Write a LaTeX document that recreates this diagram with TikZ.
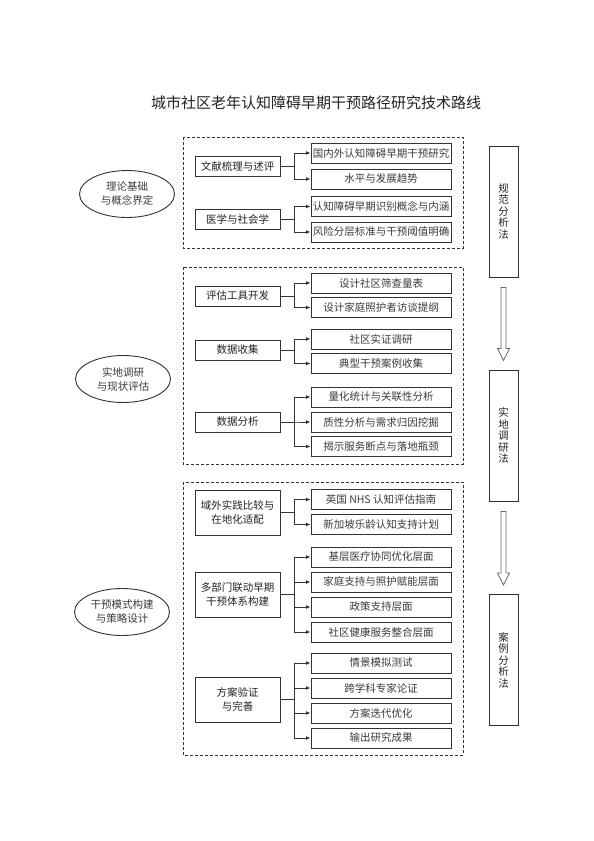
\documentclass[tikz,border=0pt]{standalone}
\usepackage{fontspec}
\setmainfont{Noto Sans CJK SC}
\usetikzlibrary{arrows.meta,shapes.geometric,calc}
\definecolor{ln}{HTML}{333333}
\definecolor{tx}{HTML}{222222}
\definecolor{lt}{HTML}{3A3A3A}
\begin{document}
\begin{tikzpicture}[x=1pt,y=-1pt,
  midbox/.style={draw=ln, line width=1pt, minimum width=85pt, minimum height=20pt, inner sep=1pt, align=center, text=tx, font=\fontsize{10.5}{14}\selectfont},
  leaf/.style={draw=ln, line width=1pt, minimum width=140pt, minimum height=20pt, inner sep=0pt, text=lt, font=\fontsize{10.5}{12}\selectfont},
  phase/.style={draw=ln, ellipse, line width=0.9pt, minimum width=95pt, minimum height=47pt, inner sep=0pt, align=center, text=lt, font=\fontsize{10.5}{14}\selectfont},
  method/.style={draw=ln, line width=1pt, minimum width=29pt, minimum height=131pt, inner sep=0pt, align=center, text=tx, font=\fontsize{10.5}{11.5}\selectfont},
  group/.style={draw=ln, dash pattern=on 3pt off 2pt, line width=0.8pt},
  conn/.style={draw=ln, line width=0.9pt, -{Latex[length=4.5pt,width=4pt]}},
  hollow/.style={draw=black!60, fill=white, line width=0.7pt}
]
\useasboundingbox (0,0) rectangle (594,841);

% title
\node[font=\fontsize{15}{18}\selectfont, text=tx] (title) at (316,103) {城市社区老年认知障碍早期干预路径研究技术路线};

% phases
\node[phase] (p1) at (127,194) {理论基础\\与概念界定};
\node[phase] (p2) at (123,379) {实地调研\\与现状评估};
\node[phase] (p3) at (122,612) {干预模式构建\\与策略设计};

% dashed groups
\draw[group] (183,137) rectangle (463,248);
\draw[group] (183,267) rectangle (463,464);
\draw[group] (183,482) rectangle (463,755);

\coordinate (T) at (294,0);

% section 1
\node[midbox] (a1) at (237.5,166) {文献梳理与述评};
\node[leaf] (a1c1) at (381,153) {国内外认知障碍早期干预研究};
\node[leaf] (a1c2) at (381,179) {水平与发展趋势};
\node[midbox] (a2) at (237.5,219) {医学与社会学};
\node[leaf] (a2c1) at (381,206.5) {认知障碍早期识别概念与内涵};
\node[leaf] (a2c2) at (381,232) {风险分层标准与干预阈值明确};

% section 2
\node[midbox] (b1) at (237.5,296) {评估工具开发};
\node[leaf] (b1c1) at (381,283) {设计社区筛查量表};
\node[leaf] (b1c2) at (381,307.5) {设计家庭照护者访谈提纲};
\node[midbox] (b2) at (237.5,350) {数据收集};
\node[leaf] (b2c1) at (381,339) {社区实证调研};
\node[leaf] (b2c2) at (381,363.5) {典型干预案例收集};
\node[midbox] (b3) at (237.5,422) {数据分析};
\node[leaf] (b3c1) at (381,397) {量化统计与关联性分析};
\node[leaf] (b3c2) at (381,422) {质性分析与需求归因挖掘};
\node[leaf] (b3c3) at (381,446.5) {揭示服务断点与落地瓶颈};

% section 3
\node[midbox, minimum height=45pt] (c1) at (237.5,512.5) {域外实践比较与\\在地化适配};
\node[leaf] (c1c1) at (381,499.5) {英国 NHS 认知评估指南};
\node[leaf] (c1c2) at (381,524.5) {新加坡乐龄认知支持计划};
\node[midbox, minimum height=45pt] (c2) at (237.5,594.5) {多部门联动早期\\干预体系构建};
\node[leaf] (c2c1) at (381,557) {基层医疗协同优化层面};
\node[leaf] (c2c2) at (381,582) {家庭支持与照护赋能层面};
\node[leaf] (c2c3) at (381,607) {政策支持层面};
\node[leaf] (c2c4) at (381,632) {社区健康服务整合层面};
\node[midbox, minimum height=45pt] (c3) at (237.5,699.5) {方案验证\\与完善};
\node[leaf] (c3c1) at (381,663) {情景模拟测试};
\node[leaf] (c3c2) at (381,688) {跨学科专家论证};
\node[leaf] (c3c3) at (381,713) {方案迭代优化};
\node[leaf] (c3c4) at (381,738) {输出研究成果};

% connectors
\foreach \m/\cs in {a1/{a1c1,a1c2}, a2/{a2c1,a2c2}, b1/{b1c1,b1c2}, b2/{b2c1,b2c2}, b3/{b3c1,b3c2,b3c3}, c1/{c1c1,c1c2}, c2/{c2c1,c2c2,c2c3,c2c4}, c3/{c3c1,c3c2,c3c3,c3c4}}{
  \foreach \c in \cs {
    \draw[conn] (\m.east) -- (T |- \m.east) |- (\c.west);
  }
}

% methods
\node[method] (m1) at (503.5,211.5) {规\\范\\分\\析\\法};
\node[method] (m2) at (503.5,435.5) {实\\地\\调\\研\\法};
\node[method] (m3) at (503.5,660) {案\\例\\分\\析\\法};

% hollow arrows between methods
\foreach \u/\d in {m1/m2, m2/m3}{
  \path ($(\u.south)+(0,10)$) coordinate (s) ($(\d.north)+(0,-9)$) coordinate (e);
  \draw[hollow] ($(s)+(-2.5,0)$) -- ($(s)+(2.5,0)$) -- ($(e)+(2.5,-12)$) -- ($(e)+(6,-12)$) -- (e) -- ($(e)+(-6,-12)$) -- ($(e)+(-2.5,-12)$) -- cycle;
}
\end{tikzpicture}
\end{document}
